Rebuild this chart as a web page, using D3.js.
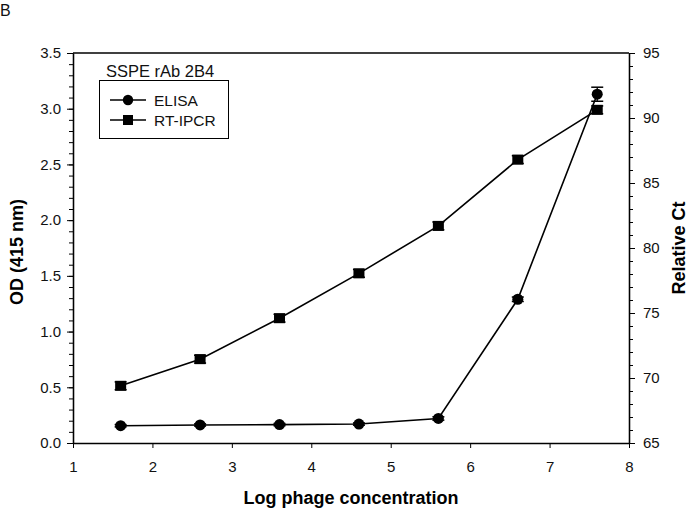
<!DOCTYPE html>
<html>
<head>
<meta charset="utf-8">
<script src="https://cdn.jsdelivr.net/npm/d3@7"></script>
<style>
  body { margin: 0; background: #fff; }
  svg { font-family: "Liberation Sans", Arial, sans-serif; }
</style>
</head>
<body>
<svg id="chart" width="691" height="509"></svg>
<script>
// data
var logConc = [1.6, 2.6, 3.6, 4.6, 5.6, 6.6, 7.6];
var elisaOD = [0.155, 0.162, 0.165, 0.17, 0.22, 1.29, 3.13];
var elisaErr = [0.01, 0.01, 0.01, 0.01, 0.015, 0.02, 0.063];
var rtipcrCt = [69.4, 71.45, 74.6, 78.05, 81.7, 86.8, 90.63];
var rtipcrErr = [0.3, 0.3, 0.3, 0.3, 0.3, 0.3, 0.3];
var xTicks = [1, 2, 3, 4, 5, 6, 7, 8];
var leftTicks = [0, 0.5, 1, 1.5, 2, 2.5, 3, 3.5];
var rightTicks = [65, 70, 75, 80, 85, 90, 95];
var legendItems = ["ELISA", "RT-IPCR"];

var svg = d3.select("#chart");
var margin = {top: 53, right: 62, bottom: 66, left: 73};
var width = 691 - margin.left - margin.right;
var height = 509 - margin.top - margin.bottom;

var g = svg.append("g")
    .attr("transform", "translate(" + margin.left + "," + margin.top + ")");

var x = d3.scaleLinear().domain([1, 8]).range([0, width]);
var yL = d3.scaleLinear().domain([0, 3.5]).range([height, 0]);
var yR = d3.scaleLinear().domain([65, 95]).range([height, 0]);

// axes
g.append("g")
    .attr("transform", "translate(0," + height + ")")
    .call(d3.axisBottom(x).tickValues(xTicks).tickFormat(d3.format("d"))
        .tickSizeInner(5).tickSizeOuter(0).tickPadding(13));

g.append("g")
    .call(d3.axisLeft(yL).tickValues(d3.range(0, 3.51, 0.1)).tickFormat("")
        .tickSizeInner(4).tickSizeOuter(0));
g.append("g")
    .call(d3.axisLeft(yL).tickValues(leftTicks).tickFormat(d3.format(".1f"))
        .tickSizeInner(6).tickSizeOuter(0).tickPadding(6));

g.append("g")
    .attr("transform", "translate(" + width + ",0)")
    .call(d3.axisRight(yR).tickValues(d3.range(65, 95.1, 1)).tickFormat("")
        .tickSizeInner(4).tickSizeOuter(0));
g.append("g")
    .attr("transform", "translate(" + width + ",0)")
    .call(d3.axisRight(yR).tickValues(rightTicks)
        .tickSizeInner(6).tickSizeOuter(0).tickPadding(8));

g.selectAll(".domain").attr("stroke", "#000").attr("stroke-width", 1.3);
g.selectAll(".tick line").attr("stroke", "#000");
g.selectAll(".tick text").attr("font-size", "15px").attr("fill", "#111")
    .attr("font-family", "'Liberation Sans', Arial, sans-serif");

// top frame line
g.append("line")
    .attr("x1", 0).attr("x2", width).attr("y1", 0).attr("y2", 0)
    .attr("stroke", "#000").attr("stroke-width", 1.3);

// lines
var elisaData = logConc.map(function (d, i) {
    return {x: d, y: elisaOD[i], e: elisaErr[i]};
});
var ctData = logConc.map(function (d, i) {
    return {x: d, y: rtipcrCt[i], e: rtipcrErr[i]};
});

g.append("path")
    .datum(elisaData)
    .attr("fill", "none").attr("stroke", "#000").attr("stroke-width", 1.6)
    .attr("d", d3.line().x(function (d) { return x(d.x); }).y(function (d) { return yL(d.y); }));

g.append("path")
    .datum(ctData)
    .attr("fill", "none").attr("stroke", "#000").attr("stroke-width", 1.6)
    .attr("d", d3.line().x(function (d) { return x(d.x); }).y(function (d) { return yR(d.y); }));

// error bars
function errBars(data, yScale) {
    var eb = g.append("g").selectAll("g").data(data).enter().append("g");
    eb.append("line")
        .attr("x1", function (d) { return x(d.x); })
        .attr("x2", function (d) { return x(d.x); })
        .attr("y1", function (d) { return yScale(d.y - d.e); })
        .attr("y2", function (d) { return yScale(d.y + d.e); })
        .attr("stroke", "#000").attr("stroke-width", 1.3);
    [-1, 1].forEach(function (s) {
        eb.append("line")
            .attr("x1", function (d) { return x(d.x) - 6; })
            .attr("x2", function (d) { return x(d.x) + 6; })
            .attr("y1", function (d) { return yScale(d.y + s * d.e); })
            .attr("y2", function (d) { return yScale(d.y + s * d.e); })
            .attr("stroke", "#000").attr("stroke-width", 1.5);
    });
}
errBars(elisaData, yL);
errBars(ctData, yR);

// markers
g.append("g").selectAll("circle")
    .data(elisaData).enter().append("circle")
    .attr("cx", function (d) { return x(d.x); })
    .attr("cy", function (d) { return yL(d.y); })
    .attr("r", 5.5)
    .attr("fill", "#000");

g.append("g").selectAll("rect")
    .data(ctData).enter().append("rect")
    .attr("x", function (d) { return x(d.x) - 5.5; })
    .attr("y", function (d) { return yR(d.y) - 5; })
    .attr("width", 11).attr("height", 10)
    .attr("fill", "#000");

// legend
svg.append("text")
    .attr("x", 106).attr("y", 77)
    .attr("font-size", "16.5px").attr("fill", "#111")
    .text("SSPE rAb 2B4");

svg.append("rect")
    .attr("x", 99.5).attr("y", 80.5).attr("width", 129).attr("height", 58)
    .attr("fill", "#fff").attr("stroke", "#000").attr("stroke-width", 1);

var leg = svg.append("g").selectAll("g")
    .data(legendItems).enter().append("g")
    .attr("transform", function (d, i) { return "translate(0," + (100 + i * 20) + ")"; });

leg.append("line")
    .attr("x1", 110).attr("x2", 146).attr("y1", 0).attr("y2", 0)
    .attr("stroke", "#000").attr("stroke-width", 1.4);
leg.filter(function (d, i) { return i === 0; }).append("circle")
    .attr("cx", 128).attr("cy", 0).attr("r", 5.2).attr("fill", "#000");
leg.filter(function (d, i) { return i === 1; }).append("rect")
    .attr("x", 123).attr("y", -5).attr("width", 10).attr("height", 10).attr("fill", "#000");
leg.append("text")
    .attr("x", 154).attr("y", 5.5)
    .attr("font-size", "15.5px").attr("fill", "#111")
    .text(function (d) { return d; });

// titles
svg.append("text")
    .attr("x", 0).attr("y", 16)
    .attr("font-size", "16px").attr("fill", "#111")
    .text("B");

svg.append("text")
    .attr("x", 351).attr("y", 504)
    .attr("text-anchor", "middle")
    .attr("font-size", "18px").attr("font-weight", "bold")
    .text("Log phage concentration");

svg.append("text")
    .attr("transform", "translate(23,252) rotate(-90)")
    .attr("text-anchor", "middle")
    .attr("font-size", "18px").attr("font-weight", "bold")
    .text("OD (415 nm)");

svg.append("text")
    .attr("transform", "translate(685,248) rotate(-90)")
    .attr("text-anchor", "middle")
    .attr("font-size", "18px").attr("font-weight", "bold")
    .text("Relative Ct");
</script>
</body>
</html>
